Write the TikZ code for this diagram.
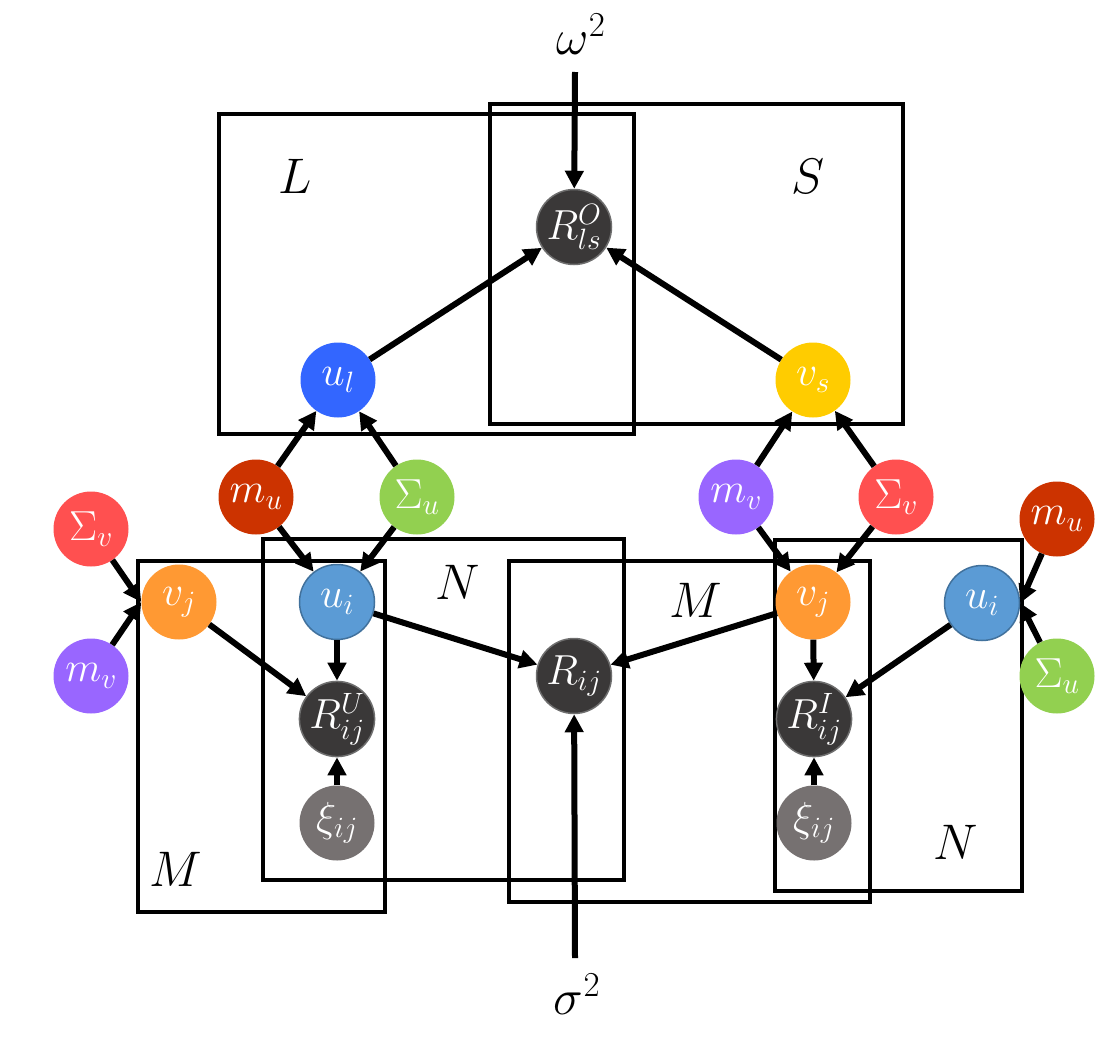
\documentclass[tikz,border=0pt]{standalone}
\usepackage{fix-cm}
\usetikzlibrary{arrows.meta}
\definecolor{obsdark}{HTML}{3A3838}
\definecolor{obsedge}{HTML}{6E6E6E}
\definecolor{xigray}{HTML}{767171}
\definecolor{muRed}{HTML}{CC3300}
\definecolor{sigGreen}{HTML}{92D050}
\definecolor{mvPurple}{HTML}{9966FF}
\definecolor{svRed}{HTML}{FF5050}
\definecolor{vjOrange}{HTML}{FF9933}
\definecolor{uiBlue}{HTML}{5B9BD5}
\definecolor{uiEdge}{HTML}{41719C}
\definecolor{ulBlue}{HTML}{3366FF}
\definecolor{vsYellow}{HTML}{FFCC00}
\begin{document}
\begin{tikzpicture}[x=1pt,y=-1pt,
  var/.style={circle, minimum size=75pt, inner sep=0pt, text=white, font=\fontsize{42}{48}\selectfont},
  obs/.style={var, fill=obsdark, draw=obsedge, line width=1.5pt},
  plate/.style={draw=black, line width=3.5pt},
  arr/.style={line width=6pt, -{Triangle[length=18pt,width=18pt]}},
  lbl/.style={font=\fontsize{50}{58}\selectfont, inner sep=0pt}]
\useasboundingbox (0,0) rectangle (1105,1036);
% plates
\draw[plate] (219,114) rectangle (634,434);
\draw[plate] (490,104) rectangle (903,424);
\draw[plate] (138,561) rectangle (385,912);
\draw[plate] (263,539) rectangle (624,880);
\draw[plate] (509,561) rectangle (870,902);
\draw[plate] (775,540) rectangle (1022,891);
% plate labels
\node[lbl] (labL) at (295,176) {$L$};
\node[lbl] (labS) at (808,176) {$S$};
\node[lbl] (labN1) at (458,582) {$N$};
\node[lbl] (labM1) at (176,869) {$M$};
\node[lbl] (labM2) at (696,600) {$M$};
\node[lbl] (labN2) at (956,842) {$N$};
\node[lbl] (omega) at (581,34) {$\omega^2$};
\node[lbl] (sigma) at (577,994) {$\sigma^2$};
\coordinate (wtop) at (575,72);
\coordinate (sbot) at (575,958);
% nodes
\node[obs] (Ro) at (574,227) {$R^O_{ls}$};
\node[var, fill=ulBlue] (ul) at (338,380) {$u_l$};
\node[var, fill=vsYellow] (vs) at (813,380) {$v_s$};
\node[var, fill=muRed] (mu1) at (256,497) {$m_u$};
\node[var, fill=sigGreen] (su1) at (417,497) {$\Sigma_u$};
\node[var, fill=mvPurple] (mv1) at (736,497) {$m_v$};
\node[var, fill=svRed] (sv1) at (896,497) {$\Sigma_v$};
\node[var, fill=svRed] (sv2) at (91,529) {$\Sigma_v$};
\node[var, fill=mvPurple] (mv2) at (91,676) {$m_v$};
\node[var, fill=vjOrange] (vj1) at (179,602) {$v_j$};
\node[var, fill=uiBlue, draw=uiEdge, line width=1.5pt] (ui1) at (337,602) {$u_i$};
\node[obs] (RU) at (337,719) {$R^U_{ij}$};
\node[var, fill=xigray] (xi1) at (337,823) {$\xi_{ij}$};
\node[obs] (R) at (574,676) {$R_{ij}$};
\node[var, fill=vjOrange] (vj2) at (813,602) {$v_j$};
\node[var, fill=uiBlue, draw=uiEdge, line width=1.5pt] (ui2) at (982,603) {$u_i$};
\node[obs] (RI) at (814,719) {$R^I_{ij}$};
\node[var, fill=xigray] (xi2) at (814,823) {$\xi_{ij}$};
\node[var, fill=muRed] (mu2) at (1057,519) {$m_u$};
\node[var, fill=sigGreen] (su2) at (1057,676) {$\Sigma_u$};
% edges
\draw[arr] (wtop) -- (Ro);
\draw[arr] (ul) -- (Ro);
\draw[arr] (vs) -- (Ro);
\draw[arr] (mu1) -- (ul);
\draw[arr] (su1) -- (ul);
\draw[arr] (mv1) -- (vs);
\draw[arr] (sv1) -- (vs);
\draw[arr] (mu1) -- (ui1);
\draw[arr] (su1) -- (ui1);
\draw[arr] (sv2) -- (vj1.west);
\draw[arr] (mv2) -- (vj1.west);
\draw[arr] (ui1) -- (RU);
\draw[arr] (vj1) -- (RU);
\draw[arr] (xi1) -- (RU);
\draw[arr] (ui1) -- (R);
\draw[arr] (vj2) -- (R);
\draw[arr] (sbot) -- (R);
\draw[arr] (mv1) -- (vj2);
\draw[arr] (sv1) -- (vj2);
\draw[arr] (vj2) -- (RI);
\draw[arr] (ui2) -- (RI);
\draw[arr] (xi2) -- (RI);
\draw[arr] (mu2) -- (ui2.east);
\draw[arr] (su2) -- (ui2.east);
\end{tikzpicture}
\end{document}
